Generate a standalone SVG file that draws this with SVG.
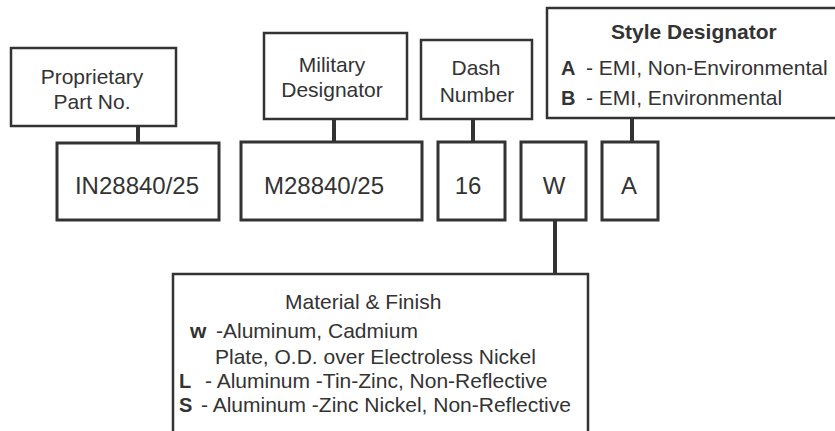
<svg xmlns="http://www.w3.org/2000/svg" width="835" height="431" viewBox="0 0 835 431">
<style>
.box{fill:#ffffff;stroke:#333333;stroke-width:2.5}
.code{fill:#ffffff;stroke:#333333;stroke-width:3}
.t{font-family:"Liberation Sans",Arial,sans-serif;font-size:21px;fill:#333333}
.m{text-anchor:middle}
.b{font-weight:bold}
.conn line{stroke:#333333;stroke-width:4}
</style>
<rect width="835" height="431" fill="#ffffff"/>
<g id="connectors" class="conn">
<line x1="138" y1="126" x2="138" y2="143"/>
<line x1="334" y1="119" x2="334" y2="142"/>
<line x1="473" y1="119" x2="473" y2="142"/>
<line x1="632" y1="118" x2="632" y2="142"/>
<line x1="555" y1="220" x2="555" y2="274"/>
</g>
<g id="proprietary">
<rect class="box" x="11" y="48" width="165" height="78"/>
<text class="t m" x="92" y="84">Proprietary</text>
<text class="t m" x="92" y="109">Part No.</text>
</g>
<g id="in-code">
<rect class="code" x="57" y="143" width="162" height="77"/>
<text class="t m" x="137" y="194" style="font-size:24px">IN28840/25</text>
</g>
<g id="military">
<rect class="box" x="264" y="33" width="143" height="86"/>
<text class="t m" x="332" y="72">Military</text>
<text class="t m" x="332" y="97">Designator</text>
</g>
<g id="m-code">
<rect class="code" x="241" y="142" width="181" height="78"/>
<text class="t m" x="324" y="194" style="font-size:24px">M28840/25</text>
</g>
<g id="dash">
<rect class="box" x="421" y="40" width="111" height="79"/>
<text class="t m" x="476" y="75">Dash</text>
<text class="t m" x="477" y="102">Number</text>
</g>
<g id="dash-code">
<rect class="code" x="438" y="142" width="67" height="78"/>
<text class="t m" x="468" y="194" style="font-size:24px">16</text>
</g>
<g id="w-code">
<rect class="code" x="521" y="142" width="65" height="78"/>
<text class="t m" x="554" y="194" style="font-size:24px">W</text>
</g>
<g id="a-code">
<rect class="code" x="602" y="142" width="56" height="78"/>
<text class="t m" x="629" y="194" style="font-size:24px">A</text>
</g>
<g id="style">
<rect class="box" x="547" y="8" width="300" height="110"/>
<text class="t b" x="611" y="39">Style Designator</text>
<text class="t b" x="561" y="75" style="font-size:20px">A</text>
<text class="t" x="586" y="75">- EMI, Non-Environmental</text>
<text class="t b" x="561" y="105" style="font-size:20px">B</text>
<text class="t" x="586" y="105">- EMI, Environmental</text>
</g>
<g id="material">
<rect class="box" x="173" y="274" width="415" height="170"/>
<text class="t" x="285" y="309">Material &amp; Finish</text>
<text class="t b" x="190" y="338">w</text>
<text class="t" x="216" y="338">-Aluminum, Cadmium</text>
<text class="t" x="215" y="364">Plate, O.D. over Electroless Nickel</text>
<text class="t b" x="179" y="388" style="font-size:20px">L</text>
<text class="t" x="205" y="388">- Aluminum -Tin-Zinc, Non-Reflective</text>
<text class="t b" x="179" y="412" style="font-size:20px">S</text>
<text class="t" x="201" y="412">- Aluminum -Zinc Nickel, Non-Reflective</text>
</g>
</svg>
